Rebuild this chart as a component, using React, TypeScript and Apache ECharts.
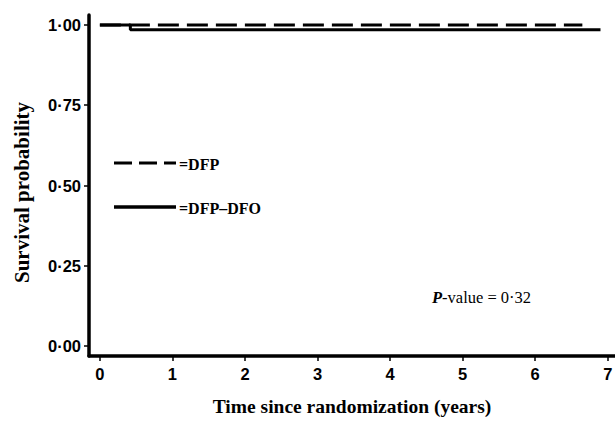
import React, { useEffect, useRef } from "react";
import * as echarts from "echarts";

const xTicks = [0, 1, 2, 3, 4, 5, 6, 7];
const yTicks = [0, 0.25, 0.5, 0.75, 1];
const dfpData: [number, number][] = [[0, 1], [6.65, 1]];
const dfpDfoData: [number, number][] = [[0, 1], [0.42, 0.985], [6.9, 0.985]];
const seriesNames = ["DFP", "DFP\u2013DFO"];
const pValue = "0\u00b732";

export default function App() {
  const ref = useRef<HTMLDivElement>(null);
  useEffect(() => {
    const chart = echarts.init(ref.current!, null, { renderer: "svg" });
    chart.setOption({
      animation: false,
      grid: { left: 89, right: 0, top: 15, bottom: 66, containLabel: false, outerBoundsMode: "none" },
      xAxis: {
        type: "value",
        min: -0.15,
        max: 7.1,
        splitLine: { show: false },
        axisLine: { onZero: false, lineStyle: { color: "#000", width: 3.5 } },
        axisTick: { customValues: xTicks, length: 5, lineStyle: { color: "#000", width: 1.5 } },
        axisLabel: {
          customValues: xTicks,
          color: "#000",
          fontFamily: "Liberation Sans",
          fontWeight: "bold",
          fontSize: 16.5,
          margin: 9,
        },
        name: "Time since randomization (years)",
        nameLocation: "middle",
        nameGap: 40,
        nameTextStyle: { color: "#000", fontFamily: "Liberation Serif", fontWeight: "bold", fontSize: 19.5 },
      },
      yAxis: {
        type: "value",
        min: -0.031,
        max: 1.031,
        splitLine: { show: false },
        axisLine: { onZero: false, lineStyle: { color: "#000", width: 3.5 } },
        axisTick: { customValues: yTicks, length: 5, lineStyle: { color: "#000", width: 1.5 } },
        axisLabel: {
          customValues: yTicks,
          color: "#000",
          fontFamily: "Liberation Sans",
          fontWeight: "bold",
          fontSize: 16.5,
          margin: 8,
          formatter: (v: number) => v.toFixed(2).replace(".", "\u00b7"),
        },
        name: "Survival probability",
        nameLocation: "middle",
        nameGap: 57,
        nameTextStyle: {
          color: "#000",
          fontFamily: "Liberation Serif",
          fontWeight: "bold",
          fontSize: 21,
          padding: [0, 14, 0, 0],
        },
      },
      series: [
        {
          name: seriesNames[0],
          type: "line",
          data: dfpData,
          symbol: "none",
          lineStyle: { color: "#000", width: 3, type: [21, 8] },
        },
        {
          name: seriesNames[1],
          type: "line",
          step: "end",
          data: dfpDfoData,
          symbol: "none",
          lineStyle: { color: "#000", width: 3 },
        },
      ],
      graphic: [
        { type: "line", shape: { x1: 114, y1: 163, x2: 176, y2: 163 }, style: { stroke: "#000", lineWidth: 3, lineDash: [18, 7] } },
        { type: "text", x: 179, y: 164, style: { text: "=" + seriesNames[0], fill: "#000", font: "bold 16px 'Liberation Serif'", verticalAlign: "middle" } },
        { type: "line", shape: { x1: 114, y1: 207, x2: 176, y2: 207 }, style: { stroke: "#000", lineWidth: 3.5 } },
        { type: "text", x: 179, y: 208, style: { text: "=" + seriesNames[1], fill: "#000", font: "bold 16px 'Liberation Serif'", verticalAlign: "middle" } },
        {
          type: "text",
          x: 432,
          y: 297,
          style: {
            text: "{i|P}{n|-value = " + pValue + "}",
            verticalAlign: "middle",
            rich: {
              i: { fill: "#000", fontFamily: "Liberation Serif", fontStyle: "italic", fontWeight: "bold", fontSize: 16.5 },
              n: { fill: "#000", fontFamily: "Liberation Serif", fontSize: 16.5 },
            },
          },
        },
      ],
    });
    return () => chart.dispose();
  }, []);
  return <div ref={ref} style={{ width: 615, height: 422, position: "absolute", left: 0, top: 0 }} />;
}
